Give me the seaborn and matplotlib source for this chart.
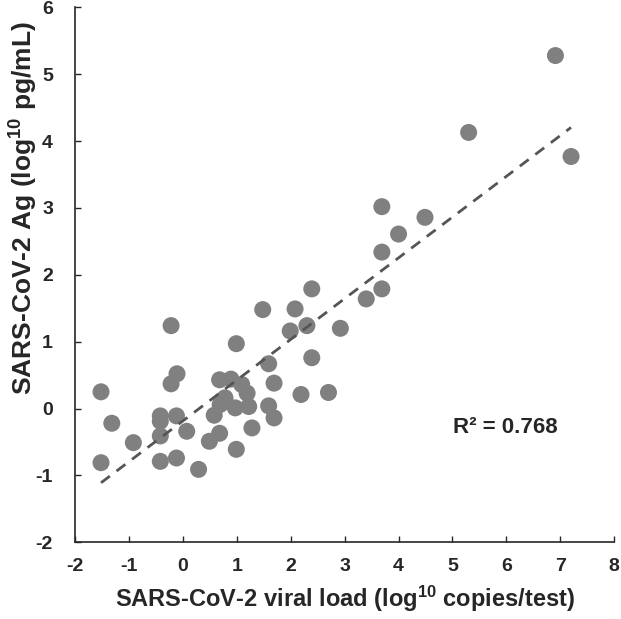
import numpy as np
import pandas as pd
import matplotlib
matplotlib.use('Agg')
import matplotlib.pyplot as plt
import seaborn as sns

# ------------------------------------------------------------------
# Data (log10 viral load vs log10 antigen)
# ------------------------------------------------------------------
viral_load = [-1.52, -1.52, -1.32, -0.92, -0.42, -0.42, -0.42, -0.42,
              -0.22, -0.22, -0.11, -0.12, -0.12, 0.07, 0.29, 0.49,
              0.58, 0.68, 0.68, 0.89, 1.09, 1.19, 0.78, 1.22,
              0.97, 0.69, 0.99, 0.99, 1.28, 1.48, 1.59, 1.59,
              1.69, 1.69, 1.99, 2.08, 2.30, 2.39, 2.39, 2.19,
              2.70, 2.92, 3.40, 3.69, 3.69, 3.69, 4.00, 4.49,
              5.30, 6.91, 7.20]
antigen = [0.25, -0.81, -0.22, -0.51, -0.11, -0.19, -0.41, -0.79,
           1.24, 0.37, 0.52, -0.11, -0.74, -0.34, -0.91, -0.49,
           -0.10, -0.37, 0.43, 0.44, 0.36, 0.23, 0.16, 0.03,
           0.01, 0.06, 0.97, -0.61, -0.29, 1.48, 0.67, 0.04,
           0.38, -0.14, 1.16, 1.49, 1.24, 1.79, 0.76, 0.21,
           0.24, 1.20, 1.64, 1.79, 2.34, 3.02, 2.61, 2.86,
           4.13, 5.28, 3.77]
r2_label = 'R² = 0.768'
x_label = 'SARS-CoV-2 viral load (log$^{10}$ copies/test)'
y_label = 'SARS-CoV-2 Ag (log$^{10}$ pg/mL)'

x_ticks = list(range(-2, 9))
y_ticks = list(range(-2, 7))

df = pd.DataFrame({'viral_load': viral_load, 'antigen': antigen})

# ------------------------------------------------------------------
# Style
# ------------------------------------------------------------------
sns.set_style('ticks')
plt.rcParams['font.family'] = ['Liberation Sans', 'DejaVu Sans']
plt.rcParams['font.weight'] = 'bold'
plt.rcParams['axes.unicode_minus'] = False
plt.rcParams['mathtext.default'] = 'regular'

fig = plt.figure(figsize=(6.21, 6.19), dpi=100)
ax = fig.add_axes([0.121, 0.124, 0.868, 0.864])

sns.scatterplot(data=df, x='viral_load', y='antigen', ax=ax,
                color='#808080', s=150, edgecolor='none', alpha=1, zorder=2)
sns.regplot(data=df, x='viral_load', y='antigen', ax=ax, scatter=False,
            ci=None, truncate=True,
            line_kws={'color': '#555555', 'linestyle': (0, (4, 3)),
                      'linewidth': 2, 'zorder': 3})

ax.text(5.98, -0.28, r2_label, fontsize=16, fontweight='bold',
        ha='center', va='center')

ax.set_xlim(-2, 8)
ax.set_ylim(-2, 6)
ax.set_xticks(x_ticks)
ax.set_xticklabels([str(t) for t in x_ticks], fontweight='bold', fontsize=14)
ax.set_yticks(y_ticks)
ax.set_yticklabels([str(t) for t in y_ticks], fontweight='bold', fontsize=14)
ax.tick_params(axis='x', direction='in', length=4, width=1, pad=11)
ax.tick_params(axis='y', direction='in', length=4, width=1, pad=16)

ax.set_xlabel(x_label, fontsize=17, fontweight='bold', labelpad=7)
ax.set_ylabel(y_label, fontsize=19, fontweight='bold')
ax.yaxis.set_label_coords(-0.066, 0.625)

for side in ['top', 'right']:
    ax.spines[side].set_visible(False)
for side in ['left', 'bottom']:
    ax.spines[side].set_linewidth(1.2)

fig.savefig('out.png', dpi=100)
